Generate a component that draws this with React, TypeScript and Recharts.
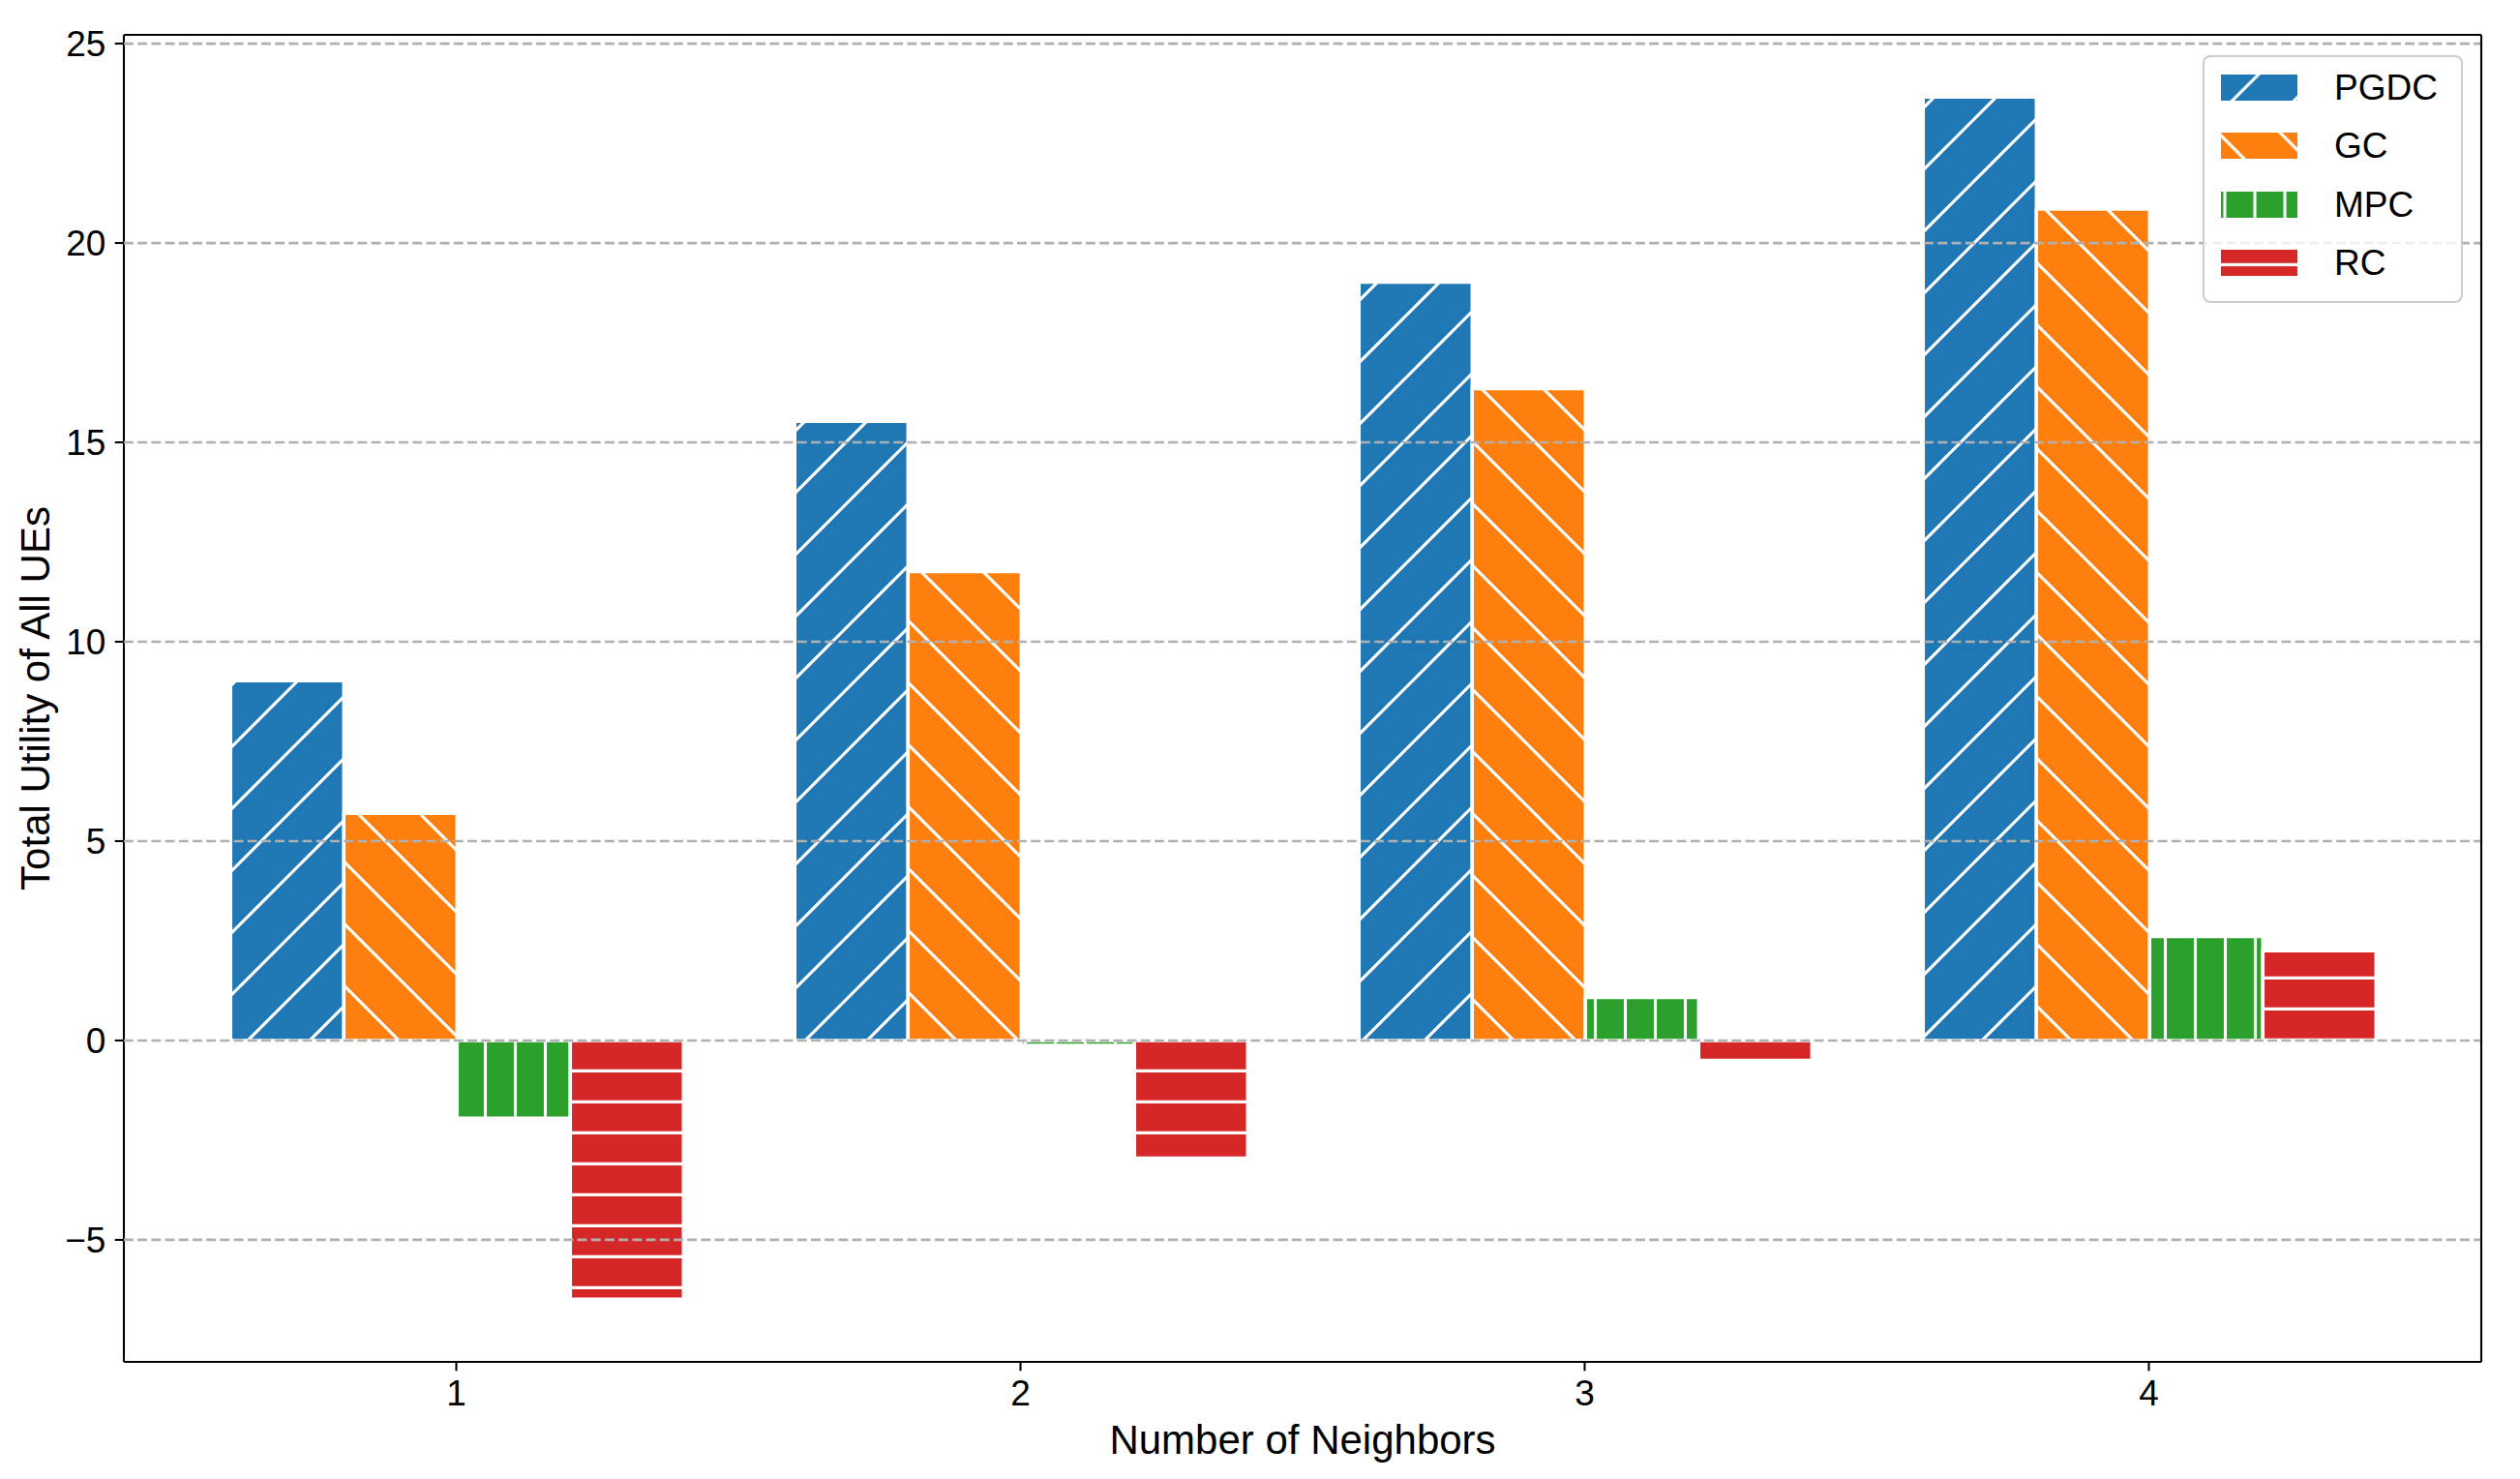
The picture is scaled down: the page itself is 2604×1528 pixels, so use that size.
import React from 'react';
import {
  ComposedChart, Bar, XAxis, YAxis, CartesianGrid, Legend,
} from 'recharts';

const neighbors = ['1', '2', '3', '4'];
const pgdc = [9.02, 15.53, 19.02, 23.66];
const gc = [5.70, 11.76, 16.35, 20.85];
const mpc = [-1.95, -0.12, 1.08, 2.61];
const rc = [-6.49, -2.95, -0.50, 2.25];
const yTicks = [-5, 0, 5, 10, 15, 20, 25];
const yDomain = [-8.06, 25.22];

const series = [
  { key: 'PGDC', color: '#1f77b4', hatch: 'hatch-pgdc', shift: [-12.3, 0] },
  { key: 'GC', color: '#ff7f0e', hatch: 'hatch-gc', shift: [19.7, 0] },
  { key: 'MPC', color: '#2ca02c', hatch: 'hatch-mpc', shift: [-1.5, 0] },
  { key: 'RC', color: '#d62728', hatch: 'hatch-rc', shift: [0, -2.9] },
];

const data = neighbors.map((n, i) => ({
  n, PGDC: pgdc[i], GC: gc[i], MPC: mpc[i], RC: rc[i],
}));

const FONT = '"Liberation Sans", Arial, Helvetica, sans-serif';
const HW = 3.1; // hatch line width

function Patterns() {
  const diag = [-13, 51, 115, 179];
  const back = [-105.3, -41.3, 22.7, 86.7];
  return (
    <svg width={0} height={0} style={{ position: 'absolute' }}>
      <defs>
        <pattern id="hatch-pgdc" patternUnits="userSpaceOnUse" width={64} height={64}>
          <rect width={64} height={64} fill="#1f77b4" />
          {diag.map(c => (
            <line key={c} x1={c + 10} y1={-10} x2={-10} y2={c + 10} stroke="#fff" strokeWidth={HW} />
          ))}
        </pattern>
        <pattern id="hatch-gc" patternUnits="userSpaceOnUse" width={64} height={64}>
          <rect width={64} height={64} fill="#ff7f0e" />
          {back.map(c => (
            <line key={c} x1={-10} y1={c - 10} x2={74} y2={c + 74} stroke="#fff" strokeWidth={HW} />
          ))}
        </pattern>
        <pattern id="hatch-mpc" patternUnits="userSpaceOnUse" width={31} height={31}>
          <rect width={31} height={31} fill="#2ca02c" />
          <line x1={5.5} y1={-2} x2={5.5} y2={33} stroke="#fff" strokeWidth={HW} />
        </pattern>
        <pattern id="hatch-rc" patternUnits="userSpaceOnUse" width={32} height={32}>
          <rect width={32} height={32} fill="#d62728" />
          <line x1={-2} y1={18.4} x2={34} y2={18.4} stroke="#fff" strokeWidth={HW} />
        </pattern>
      </defs>
    </svg>
  );
}

function LegendBox() {
  return (
    <div style={{
      boxSizing: 'border-box', width: 269, height: 256,
      border: '2.2px solid #cccccc', borderRadius: 8,
      background: 'rgba(255,255,255,0.8)', paddingTop: 1.4, paddingLeft: 17,
      fontFamily: FONT, fontSize: 37, color: '#000',
    }}>
      {series.map(s => (
        <div key={s.key} style={{ display: 'flex', alignItems: 'center', height: 60.3 }}>
          <svg width={79} height={27} style={{ display: 'block' }}>
            <g transform={`translate(${s.shift[0]},${s.shift[1]})`}>
              <rect x={-s.shift[0]} y={-s.shift[1]} width={79} height={27} fill={`url(#${s.hatch})`} />
            </g>
          </svg>
          <span style={{ marginLeft: 38, lineHeight: 1 }}>{s.key}</span>
        </div>
      ))}
    </div>
  );
}

function XLabel(props: any) {
  const vb = props.viewBox || { x: 128, y: 1407, width: 2436 };
  return (
    <text x={vb.x + vb.width / 2} y={vb.y + 95} textAnchor="middle"
      fontFamily={FONT} fontSize={42} fill="#000">
      Number of Neighbors
    </text>
  );
}

function YLabel(props: any) {
  const vb = props.viewBox || { x: 0, y: 36, height: 1371 };
  const x = vb.x + 51;
  const y = vb.y + vb.height / 2;
  return (
    <text x={x} y={y} transform={`rotate(-90, ${x}, ${y})`} textAnchor="middle"
      fontFamily={FONT} fontSize={42} fill="#000">
      Total Utility of All UEs
    </text>
  );
}

const fmt = (v: number) => (v < 0 ? `\u2212${Math.abs(v)}` : String(v));
const axisLine = { stroke: '#000', strokeWidth: 2.1 };
const tickStyle = { fill: '#000', fontSize: 37, fontFamily: FONT };

// top and right spines of the axes box
const topSpine = ({ offset }: any) => [offset ? offset.top : 36];
const rightSpine = ({ offset }: any) => [offset ? offset.left + offset.width : 2564];

export default function App() {
  return (
    <div style={{ width: 2604, height: 1528, background: '#fff', position: 'relative' }}>
      <style>{'body{margin:0;background:#fff}'}</style>
      <Patterns />
      <ComposedChart
        width={2604} height={1528} data={data}
        margin={{ top: 36, right: 40, bottom: 0, left: 0 }}
        barCategoryGap="10%" barGap={0}
      >
        <XAxis
          dataKey="n" height={121} padding={{ left: 52, right: 52 }}
          axisLine={axisLine} tickLine={axisLine} tickSize={9.3} tickMargin={9.3}
          tick={tickStyle} interval={0}
          label={XLabel}
        />
        <YAxis
          type="number" domain={yDomain} ticks={yTicks} allowDataOverflow
          width={128} axisLine={axisLine} tickLine={axisLine} tickSize={9.3} tickMargin={9.3}
          tick={tickStyle} tickFormatter={fmt} interval={0}
          label={YLabel}
        />
        {series.map(s => (
          <Bar
            key={s.key} dataKey={s.key} name={s.key}
            fill={`url(#${s.hatch})`} stroke="#fff" strokeWidth={3.5}
            isAnimationActive={false}
          />
        ))}
        {/* matplotlib draws the grid above the bars here */}
        <CartesianGrid
          vertical={false} syncWithTicks stroke="#b0b0b0" strokeWidth={2.67} strokeDasharray="9.9 4.3"
          zIndex={500}
        />
        <CartesianGrid
          stroke="#000" strokeWidth={2.1}
          horizontalCoordinatesGenerator={topSpine}
          verticalCoordinatesGenerator={rightSpine}
          zIndex={600}
        />
        <Legend
          layout="vertical" align="center" verticalAlign="middle"
          wrapperStyle={{ left: 2276, top: 57, width: 269, height: 256 }}
          content={() => <LegendBox />}
        />
      </ComposedChart>
    </div>
  );
}
